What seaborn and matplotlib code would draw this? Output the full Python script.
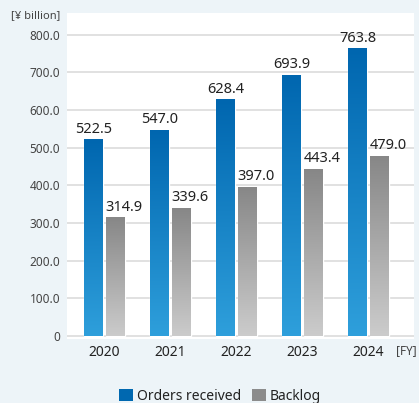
import numpy as np
import pandas as pd
import matplotlib
matplotlib.use("Agg")
import matplotlib.pyplot as plt
from matplotlib.colors import LinearSegmentedColormap
from matplotlib.patches import Patch
import seaborn as sns

years = ["2020", "2021", "2022", "2023", "2024"]
orders = [522.5, 547.0, 628.4, 693.9, 763.8]
backlog = [314.9, 339.6, 397.0, 443.4, 479.0]
series = ["Orders received", "Backlog"]
yticks = [0, 100, 200, 300, 400, 500, 600, 700, 800]
ytick_labels = ["0", "100.0", "200.0", "300.0", "400.0", "500.0", "600.0", "700.0", "800.0"]

df = pd.DataFrame({
    "year": years * 2,
    "value": orders + backlog,
    "series": [series[0]] * len(years) + [series[1]] * len(years),
})

sns.set_theme(style="white")
plt.rcParams["font.family"] = ["Noto Sans", "DejaVu Sans"]

bg = "#edf4f8"
fig = plt.figure(figsize=(4.19, 4.03), dpi=100, facecolor=bg)
ax = fig.add_axes([67 / 419, 1 - 339 / 403, (414 - 67) / 419, (339 - 13) / 403])
ax.set_facecolor("white")

palette = {series[0]: "#0068b0", series[1]: "#8c8c8c"}
sns.barplot(data=df, x="year", y="value", hue="series", order=years,
            hue_order=series, palette=palette, width=0.666, gap=0.136,
            ax=ax, legend=False, saturation=1)

YMIN, YMAX = -8, 858
XMIN, XMAX = -0.568, 4.689
ax.set_yticks(yticks)
ax.set_yticklabels(ytick_labels)
ax.yaxis.grid(True, color="#dedede", linewidth=1.3)
ax.set_axisbelow(True)
for s in ax.spines.values():
    s.set_visible(False)
ax.tick_params(axis="y", length=0, pad=5, labelsize=8.5, labelcolor="#444444")
ax.tick_params(axis="x", length=0, pad=4, labelsize=10, labelcolor="#222222")
ax.set_xlabel("")
ax.set_ylabel("")

cmaps = [
    LinearSegmentedColormap.from_list("o", ["#2fa0dc", "#0066af"]),
    LinearSegmentedColormap.from_list("b", ["#cdcdcd", "#878787"]),
]
grad = np.linspace(0, 1, 256).reshape(-1, 1)
for i, (cont, cm) in enumerate(zip(ax.containers, cmaps)):
    for p in cont:
        x0, y0 = p.get_x(), p.get_y()
        w, h = p.get_width(), p.get_height()
        im = ax.imshow(grad, cmap=cm, aspect="auto", origin="lower",
                       extent=[x0, x0 + w, YMIN, y0 + h], zorder=p.get_zorder())
        im.set_clip_path(p)
        if i == 0:
            ax.annotate(f"{h:.1f}", (x0 + w / 2, y0 + h), xytext=(0, 2),
                        textcoords="offset points", ha="center", va="bottom",
                        fontsize=10.5, color="#222222")
        else:
            ax.annotate(f"{h:.1f}", (x0, y0 + h), xytext=(-0.5, 2),
                        textcoords="offset points", ha="left", va="bottom",
                        fontsize=10.5, color="#222222")

ax.set_ylim(YMIN, YMAX)
ax.set_xlim(XMIN, XMAX)

fig.text(60 / 419, 1 - 16 / 403, "[¥ billion]", ha="right", va="center",
         fontsize=8, color="#444444")
fig.text(396 / 419, 1 - 351 / 403, "[FY]", ha="left", va="center",
         fontsize=8.5, color="#444444")

handles = [Patch(facecolor=palette[s], edgecolor="none") for s in series]
fig.legend(handles, series, loc="center", bbox_to_anchor=(220 / 419, 1 - 396 / 403),
           ncol=2, frameon=False, fontsize=10, handlelength=1.0, handleheight=1.0,
           handletextpad=0.3, columnspacing=0.8, labelcolor="#222222")

fig.savefig("out.png", dpi=100, facecolor=bg)
